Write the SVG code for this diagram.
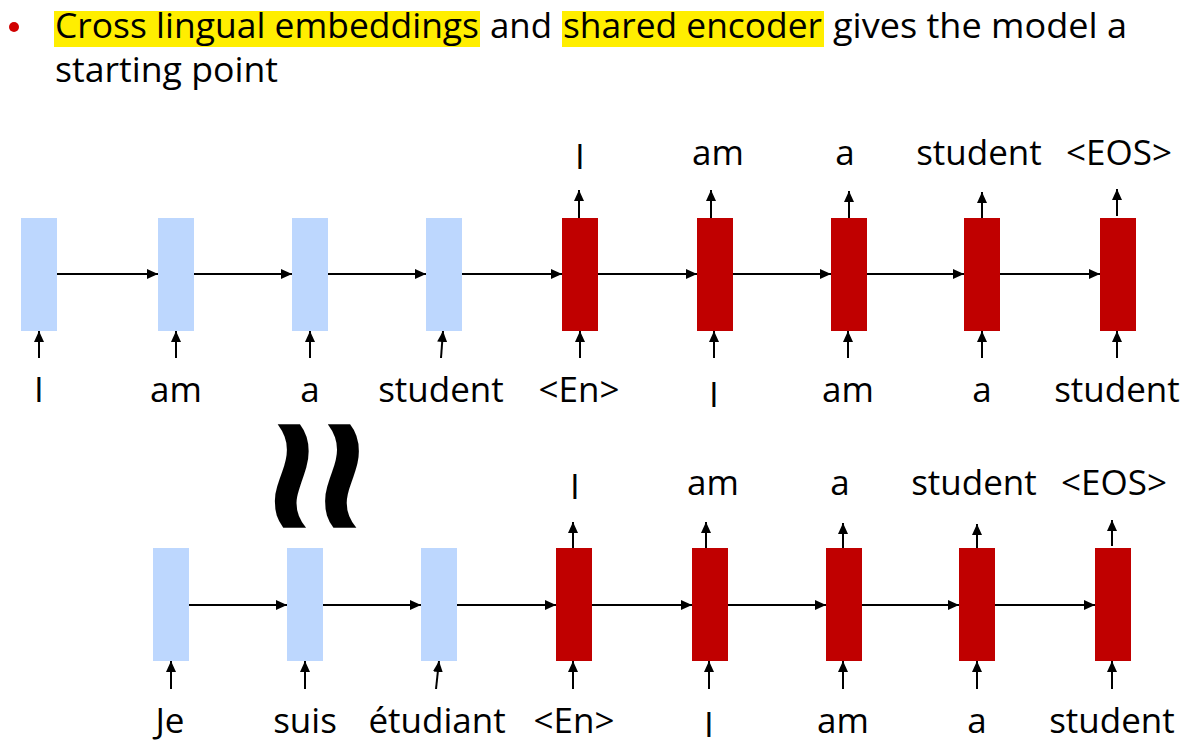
<svg xmlns="http://www.w3.org/2000/svg" width="1192" height="746" viewBox="0 0 1192 746">
<style>
.t{font-family:"Open Sans","Liberation Sans",sans-serif;font-size:34px;fill:#000}
.l{font-family:"Open Sans","Liberation Sans",sans-serif;font-size:35px;fill:#000;text-anchor:middle}
.enc{fill:#BDD7FE}
.dec{fill:#C00000}
.hl{fill:#FFEE00}
.c{stroke:#000;stroke-width:2;fill:none;marker-end:url(#ah)}
</style>
<defs>
<marker id="ah" markerUnits="userSpaceOnUse" markerWidth="11" markerHeight="10" refX="11" refY="5" orient="auto">
<path d="M0,0 L11,5 L0,10 Z" fill="#000"/>
</marker>
</defs>
<rect width="1192" height="746" fill="#fff"/>
<g id="title">
<circle cx="14" cy="27" r="5" fill="#D00000"/>
<rect class="hl" x="54" y="11" width="426" height="36"/>
<rect class="hl" x="562" y="11" width="262" height="36"/>
<text class="t" x="55" y="38" textLength="424" lengthAdjust="spacingAndGlyphs">Cross lingual embeddings</text>
<text class="t" x="490" y="38" textLength="62" lengthAdjust="spacingAndGlyphs">and</text>
<text class="t" x="563" y="38" textLength="259" lengthAdjust="spacingAndGlyphs">shared encoder</text>
<text class="t" x="833" y="38" textLength="294" lengthAdjust="spacingAndGlyphs">gives the model a</text>
<text class="t" x="55" y="82" textLength="223" lengthAdjust="spacingAndGlyphs">starting point</text>
</g>
<g id="approx">
<text transform="translate(320,476) rotate(90) scale(1,1.05)" x="0" y="70" font-family="Liberation Sans, sans-serif" font-weight="bold" font-size="204" text-anchor="middle">≈</text>
</g>
<!-- Row 1 nodes -->
<g id="r1e1"><rect class="enc" x="21" y="218" width="36" height="113"/><text class="l" x="39" y="402">I</text></g>
<g id="r1e2"><rect class="enc" x="158" y="218" width="36" height="113"/><text class="l" x="176" y="402">am</text></g>
<g id="r1e3"><rect class="enc" x="292" y="218" width="36" height="113"/><text class="l" x="310" y="402">a</text></g>
<g id="r1e4"><rect class="enc" x="426" y="218" width="36" height="113"/><text class="l" x="441" y="402">student</text></g>
<g id="r1d1"><rect class="dec" x="562" y="218" width="36" height="113"/><text class="l" x="579" y="402">&lt;En&gt;</text><text class="l" x="580" y="169">I</text></g>
<g id="r1d2"><rect class="dec" x="697" y="218" width="36" height="113"/><text class="l" x="714" y="407">I</text><text class="l" x="718" y="165">am</text></g>
<g id="r1d3"><rect class="dec" x="831" y="218" width="36" height="113"/><text class="l" x="848" y="402">am</text><text class="l" x="845" y="165">a</text></g>
<g id="r1d4"><rect class="dec" x="964" y="218" width="36" height="113"/><text class="l" x="982" y="402">a</text><text class="l" x="979" y="165">student</text></g>
<g id="r1d5"><rect class="dec" x="1100" y="218" width="36" height="113"/><text class="l" x="1117" y="402">student</text><text class="l" x="1119" y="165">&lt;EOS&gt;</text></g>
<!-- Row 2 nodes -->
<g id="r2e1"><rect class="enc" x="153" y="548" width="36" height="113"/><text class="l" x="170" y="733">Je</text></g>
<g id="r2e2"><rect class="enc" x="287" y="548" width="36" height="113"/><text class="l" x="305" y="733">suis</text></g>
<g id="r2e3"><rect class="enc" x="421" y="548" width="36" height="113"/><text class="l" x="437" y="733">étudiant</text></g>
<g id="r2d1"><rect class="dec" x="556" y="548" width="36" height="113"/><text class="l" x="574" y="733">&lt;En&gt;</text><text class="l" x="575" y="499">I</text></g>
<g id="r2d2"><rect class="dec" x="692" y="548" width="36" height="113"/><text class="l" x="709" y="737">I</text><text class="l" x="713" y="495">am</text></g>
<g id="r2d3"><rect class="dec" x="826" y="548" width="36" height="113"/><text class="l" x="843" y="733">am</text><text class="l" x="840" y="495">a</text></g>
<g id="r2d4"><rect class="dec" x="959" y="548" width="36" height="113"/><text class="l" x="977" y="733">a</text><text class="l" x="974" y="495">student</text></g>
<g id="r2d5"><rect class="dec" x="1095" y="548" width="36" height="113"/><text class="l" x="1112" y="733">student</text><text class="l" x="1114" y="495">&lt;EOS&gt;</text></g>
<g id="connectors">
<!-- row 1 horizontal -->
<line class="c" x1="57" y1="274" x2="158" y2="274"/>
<line class="c" x1="194" y1="274" x2="292" y2="274"/>
<line class="c" x1="328" y1="274" x2="426" y2="274"/>
<line class="c" x1="462" y1="274" x2="562" y2="274"/>
<line class="c" x1="598" y1="274" x2="697" y2="274"/>
<line class="c" x1="733" y1="274" x2="831" y2="274"/>
<line class="c" x1="867" y1="274" x2="964" y2="274"/>
<line class="c" x1="1000" y1="274" x2="1100" y2="274"/>
<!-- row 1 inputs -->
<line class="c" x1="39" y1="358" x2="39" y2="331"/>
<line class="c" x1="176" y1="358" x2="176" y2="331"/>
<line class="c" x1="310" y1="358" x2="310" y2="331"/>
<line class="c" x1="441" y1="358" x2="443" y2="331"/>
<line class="c" x1="580" y1="358" x2="580" y2="331"/>
<line class="c" x1="714" y1="358" x2="714" y2="331"/>
<line class="c" x1="848" y1="358" x2="848" y2="331"/>
<line class="c" x1="982" y1="358" x2="982" y2="331"/>
<line class="c" x1="1117" y1="358" x2="1117" y2="331"/>
<!-- row 1 outputs -->
<line class="c" x1="579" y1="218" x2="579" y2="190"/>
<line class="c" x1="711" y1="218" x2="711" y2="190"/>
<line class="c" x1="849" y1="218" x2="849" y2="191"/>
<line class="c" x1="982" y1="218" x2="982" y2="192"/>
<line class="c" x1="1117" y1="216" x2="1117" y2="189"/>
<!-- row 2 horizontal -->
<line class="c" x1="189" y1="605" x2="287" y2="605"/>
<line class="c" x1="323" y1="605" x2="421" y2="605"/>
<line class="c" x1="457" y1="605" x2="556" y2="605"/>
<line class="c" x1="592" y1="605" x2="692" y2="605"/>
<line class="c" x1="728" y1="605" x2="826" y2="605"/>
<line class="c" x1="862" y1="605" x2="959" y2="605"/>
<line class="c" x1="995" y1="605" x2="1095" y2="605"/>
<!-- row 2 inputs -->
<line class="c" x1="171" y1="689" x2="171" y2="661"/>
<line class="c" x1="305" y1="689" x2="305" y2="661"/>
<line class="c" x1="436" y1="689" x2="439" y2="661"/>
<line class="c" x1="573" y1="689" x2="573" y2="661"/>
<line class="c" x1="709" y1="689" x2="709" y2="661"/>
<line class="c" x1="843" y1="689" x2="843" y2="661"/>
<line class="c" x1="977" y1="689" x2="977" y2="661"/>
<line class="c" x1="1112" y1="689" x2="1112" y2="661"/>
<!-- row 2 outputs -->
<line class="c" x1="573" y1="548" x2="573" y2="522"/>
<line class="c" x1="706" y1="548" x2="706" y2="522"/>
<line class="c" x1="843" y1="548" x2="843" y2="523"/>
<line class="c" x1="977" y1="548" x2="977" y2="524"/>
<line class="c" x1="1112" y1="546" x2="1112" y2="520"/>
</g>
</svg>
